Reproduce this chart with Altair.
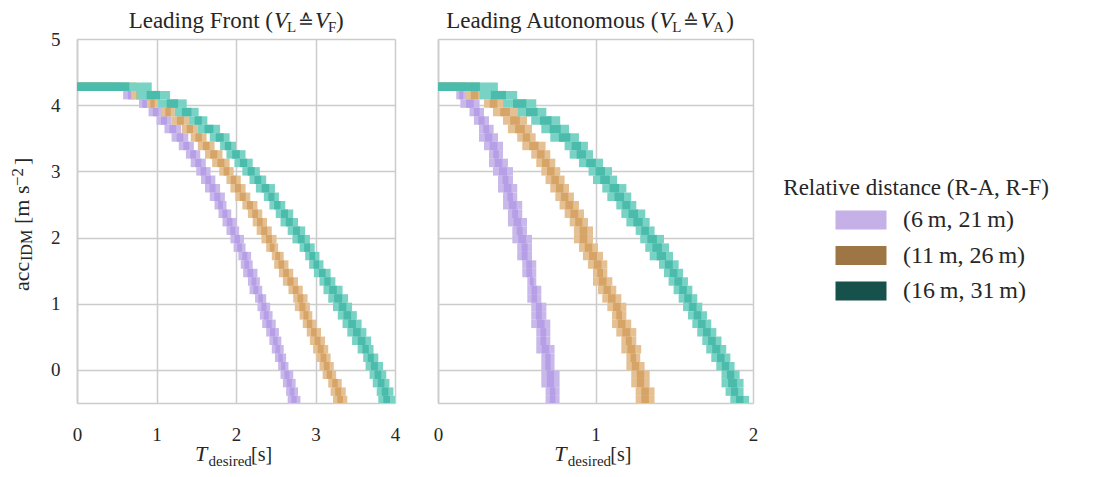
import altair as alt
import pandas as pd

SERIF = "Liberation Serif, DejaVu Serif"
TXT = "#262626"

# ---------------- data ----------------
SERIES = ["(6\u2009m, 21\u2009m)", "(11\u2009m, 26\u2009m)", "(16\u2009m, 31\u2009m)"]
LEGEND_COLORS = ["#c5b0e8", "#9e7646", "#17514b"]
OUTER_COLORS = ["#c9b8ea", "#e5c093", "#78d3c5"]
INNER_COLORS = ["#b69fe6", "#d7a468", "#4bbbab"]

X_TICKS_FRONT = [0, 1, 2, 3, 4]
X_TICKS_AUTO = [0, 1, 2]
Y_TICKS = [0, 1, 2, 3, 4, 5]

# y centre of each histogram row
ROW_Y = [4.28, 4.152, 4.024, 3.896, 3.768, 3.64, 3.512, 3.384, 3.256, 3.128,
         3.0, 2.872, 2.744, 2.616, 2.488, 2.36, 2.232, 2.104, 1.976, 1.848,
         1.72, 1.592, 1.464, 1.336, 1.208, 1.08, 0.952, 0.824, 0.696, 0.568,
         0.44, 0.312, 0.184, 0.056, -0.072, -0.2, -0.328, -0.456]
ROW_H = 0.128

# Leading Front panel: x extent of each row
FRONT_P_LO = [0.0, 0.58, 0.78, 0.90, 1.00, 1.10, 1.19, 1.28, 1.37, 1.43, 1.50, 1.56, 1.61, 1.67, 1.73, 1.78, 1.83, 1.88, 1.93, 1.97,
              2.03, 2.06, 2.09, 2.15, 2.17, 2.24, 2.27, 2.30, 2.33, 2.38, 2.42, 2.45, 2.49, 2.53, 2.56, 2.59, 2.63, 2.65]
FRONT_P_HI = [0.60, 0.78, 0.92, 1.08, 1.19, 1.31, 1.40, 1.47, 1.55, 1.62, 1.68, 1.74, 1.80, 1.86, 1.88, 1.94, 2.01, 2.04, 2.10, 2.12,
              2.19, 2.21, 2.27, 2.30, 2.33, 2.38, 2.43, 2.46, 2.50, 2.54, 2.57, 2.60, 2.63, 2.66, 2.72, 2.75, 2.78, 2.81]
FRONT_O_LO = [0.0, 0.68, 0.88, 1.06, 1.19, 1.32, 1.43, 1.52, 1.61, 1.70, 1.79, 1.88, 1.93, 1.99, 2.08, 2.15, 2.21, 2.26, 2.32, 2.38,
              2.45, 2.48, 2.54, 2.59, 2.66, 2.72, 2.74, 2.80, 2.84, 2.89, 2.93, 2.97, 3.01, 3.05, 3.09, 3.16, 3.19, 3.22]
FRONT_O_HI = [0.75, 0.90, 1.02, 1.23, 1.41, 1.52, 1.63, 1.73, 1.83, 1.92, 1.97, 2.06, 2.12, 2.18, 2.27, 2.33, 2.39, 2.45, 2.51, 2.53,
              2.60, 2.66, 2.72, 2.78, 2.84, 2.90, 2.93, 2.96, 3.01, 3.07, 3.12, 3.16, 3.19, 3.23, 3.26, 3.33, 3.38, 3.40]
FRONT_T_LO = [0.0, 0.75, 1.02, 1.23, 1.41, 1.52, 1.67, 1.80, 1.88, 1.98, 2.08, 2.17, 2.25, 2.35, 2.42, 2.50, 2.56, 2.65, 2.71, 2.80,
              2.87, 2.92, 2.98, 3.05, 3.10, 3.16, 3.22, 3.28, 3.34, 3.40, 3.46, 3.53, 3.60, 3.63, 3.68, 3.72, 3.77, 3.79]
FRONT_T_HI = [0.94, 1.17, 1.38, 1.53, 1.64, 1.80, 1.92, 2.00, 2.12, 2.21, 2.30, 2.38, 2.49, 2.54, 2.62, 2.72, 2.78, 2.87, 2.93, 2.99,
              3.05, 3.10, 3.19, 3.25, 3.34, 3.41, 3.46, 3.52, 3.58, 3.64, 3.70, 3.73, 3.79, 3.85, 3.89, 3.93, 3.98, 4.00]

# Leading Autonomous panel
AUTO_P_LO = [0.0, 0.116, 0.142, 0.20, 0.228, 0.26, 0.26, 0.292, 0.324, 0.324, 0.349, 0.381, 0.381, 0.413, 0.413, 0.444, 0.444, 0.472, 0.472, 0.503,
             0.503, 0.535, 0.535, 0.567, 0.567, 0.567, 0.592, 0.592, 0.592, 0.624, 0.624, 0.624, 0.656, 0.656, 0.656, 0.656, 0.683, 0.683]
AUTO_P_HI = [0.15, 0.18, 0.264, 0.292, 0.324, 0.353, 0.381, 0.413, 0.413, 0.444, 0.476, 0.476, 0.503, 0.503, 0.535, 0.535, 0.565, 0.565, 0.597, 0.597,
             0.597, 0.624, 0.624, 0.624, 0.656, 0.656, 0.688, 0.688, 0.713, 0.713, 0.713, 0.74, 0.74, 0.74, 0.772, 0.772, 0.772, 0.772]
AUTO_O_LO = [0.0, 0.173, 0.292, 0.349, 0.413, 0.444, 0.503, 0.535, 0.592, 0.624, 0.656, 0.683, 0.713, 0.745, 0.772, 0.804, 0.836, 0.863, 0.863, 0.895,
             0.92, 0.952, 0.984, 0.984, 1.016, 1.043, 1.075, 1.105, 1.105, 1.132, 1.164, 1.164, 1.196, 1.196, 1.227, 1.227, 1.255, 1.255]
AUTO_O_HI = [0.26, 0.29, 0.413, 0.503, 0.565, 0.597, 0.62, 0.683, 0.713, 0.745, 0.776, 0.804, 0.832, 0.863, 0.895, 0.927, 0.952, 0.984, 0.984, 1.016,
             1.048, 1.075, 1.075, 1.107, 1.132, 1.164, 1.196, 1.196, 1.227, 1.259, 1.259, 1.29, 1.284, 1.312, 1.344, 1.344, 1.375, 1.375]
AUTO_T_LO = [0.0, 0.264, 0.413, 0.503, 0.592, 0.656, 0.713, 0.804, 0.836, 0.895, 0.956, 0.984, 1.043, 1.075, 1.132, 1.164, 1.196, 1.255, 1.284, 1.316,
             1.344, 1.403, 1.435, 1.464, 1.496, 1.528, 1.556, 1.587, 1.615, 1.646, 1.678, 1.703, 1.735, 1.767, 1.80, 1.80, 1.826, 1.856]
AUTO_T_HI = [0.38, 0.503, 0.624, 0.688, 0.776, 0.832, 0.895, 0.952, 0.984, 1.048, 1.105, 1.137, 1.196, 1.227, 1.259, 1.316, 1.344, 1.375, 1.435, 1.467,
             1.492, 1.528, 1.556, 1.587, 1.615, 1.646, 1.678, 1.708, 1.735, 1.767, 1.80, 1.83, 1.856, 1.883, 1.915, 1.94, 1.94, 1.975]

KEYS = [f"{s}|{t}" for s in SERIES for t in ("outer", "inner")]
FILLS = [c for pair in zip(OUTER_COLORS, INNER_COLORS) for c in pair]


def build_rows(bands):
    recs = []
    for s, (lo_list, hi_list) in zip(SERIES, bands):
        assert len(lo_list) == len(ROW_Y) and len(hi_list) == len(ROW_Y)
        for tone in ("outer", "inner"):
            for yc, lo, hi in zip(ROW_Y, lo_list, hi_list):
                w = hi - lo
                if tone == "inner":
                    lo, hi = (lo if lo == 0 else lo + 0.3 * w), hi - 0.3 * w
                recs.append({"key": f"{s}|{tone}", "x_lo": lo, "x_hi": hi,
                             "y_lo": yc - ROW_H / 2, "y_hi": yc + ROW_H / 2})
    return pd.DataFrame(recs)


def piece(text, x, y, size, italic=False, angle=0, align="left", font=SERIF):
    kw = dict(font=font, fontSize=size, color=TXT, align=align, baseline="alphabetic")
    if italic:
        kw["fontStyle"] = "italic"
    if angle:
        kw["angle"] = angle
    return alt.Chart(pd.DataFrame({"t": [text]})).mark_text(**kw).encode(
        x=alt.value(x), y=alt.value(y), text="t:N")


def title_pieces(lead, E, sub2, extra=0):
    ty = -11.5
    return [
        piece(lead, E, ty, 23, align="right"),
        piece("V", E + 1, ty, 23, italic=True),
        piece("L", E + 14, ty + 4, 15),
        piece("\u2259", E + 25, ty, 19, font="DejaVu Serif"),
        piece("V", E + 42, ty, 23, italic=True),
        piece(sub2, E + 55, ty + 4, 15),
        piece(")", E + 63 + extra, ty, 23),
    ]


def xtitle_pieces(x0):
    by = 421.7
    return [
        piece("T", x0, by, 22, italic=True),
        piece("desired", x0 + 13.5, by + 5, 15),
        piece("[s]", x0 + 56, by, 20),
    ]


def ytitle_pieces():
    bx = -48.5
    return [
        piece("acc", bx, 252, 22, angle=270),
        piece("IDM", bx + 3.5, 222, 16, angle=270),
        piece("[m s", bx, 185, 22, angle=270),
        piece("\u22122", bx - 6, 147, 17, angle=270),
        piece("]", bx, 126, 22, angle=270),
    ]


PLOT_H = 364


def panel(bands, xmax, xticks, width, left):
    df = build_rows(bands)
    rects = alt.Chart(df).mark_rect(clip=True, strokeWidth=0).encode(
        x=alt.X("x_lo:Q", scale=alt.Scale(domain=[0, xmax], nice=False, zero=False),
                axis=alt.Axis(values=xticks, tickCount=20, tickMinStep=0.5, title=None,
                              labelPadding=22, format=".0f")),
        x2="x_hi:Q",
        y=alt.Y("y_lo:Q", scale=alt.Scale(domain=[-0.5, 5], nice=False, zero=False),
                axis=alt.Axis(values=Y_TICKS, tickCount=20, tickMinStep=0.5, title=None,
                              labels=left, labelPadding=17, format=".0f")),
        y2="y_hi:Q",
        fill=alt.Fill("key:N", scale=alt.Scale(domain=KEYS, range=FILLS), legend=None),
    )
    layers = [rects]
    if left:
        swatch = "M-2.684,-1H2.684V1H-2.684Z"
        leg = alt.Chart(pd.DataFrame({"series": SERIES})).mark_point(
            filled=True, opacity=0, shape=swatch).encode(
            x=alt.value(0), y=alt.value(0),
            color=alt.Color("series:N", scale=alt.Scale(domain=SERIES, range=LEGEND_COLORS),
                            legend=alt.Legend(title=None, orient="none", legendX=772, legendY=169,
                                              symbolType=swatch, symbolSize=361, symbolStrokeWidth=0,
                                              symbolOpacity=1,
                                              labelFont=SERIF, labelFontSize=24, labelColor=TXT,
                                              labelOffset=30, rowPadding=11.5, padding=0)))
        layers.append(leg)
        layers += title_pieces("Leading Front (", 196, "F")
        layers += xtitle_pieces(118)
        layers += ytitle_pieces()
    else:
        layers += title_pieces("Leading Autonomous (", 220.3, "A", extra=5)
        layers += xtitle_pieces(116.3)
        layers.append(piece("Relative distance (R-A, R-F)", 345.3, 156, 23))
    return alt.layer(*layers).properties(width=width, height=PLOT_H)


left = panel([(FRONT_P_LO, FRONT_P_HI), (FRONT_O_LO, FRONT_O_HI), (FRONT_T_LO, FRONT_T_HI)],
             4, X_TICKS_FRONT, 318, True)
right = panel([(AUTO_P_LO, AUTO_P_HI), (AUTO_O_LO, AUTO_O_HI), (AUTO_T_LO, AUTO_T_HI)],
              2, X_TICKS_AUTO, 315, False)

chart = alt.hconcat(left, right, spacing=43, bounds="flush").properties(
    padding={"left": 0, "top": 1, "right": 5, "bottom": 0}
).configure_view(stroke="transparent").configure_axis(
    grid=True, gridColor="#cccccc", gridWidth=1.5,
    domainColor="#cccccc", domainWidth=1.6,
    ticks=False, tickSize=0, labelFlush=False, labelOverlap=False,
    labelFont=SERIF, labelFontSize=19, labelColor=TXT,
)

chart.save("out.html", embed_options={"renderer": "svg", "actions": False})
